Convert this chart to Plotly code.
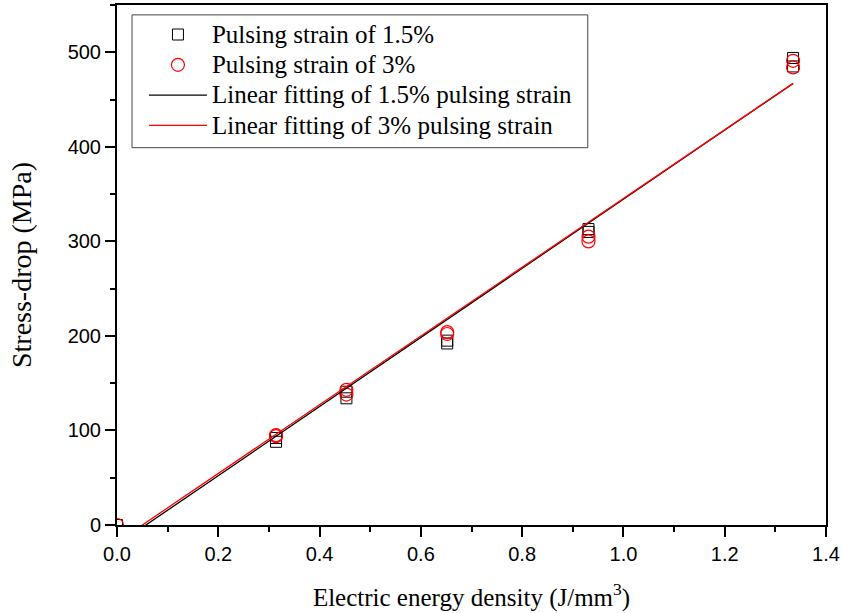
import plotly.graph_objects as go
import numpy as np

# Data
x_15 = [0.0, 0.314, 0.314, 0.453, 0.453, 0.652, 0.652, 0.931, 0.931, 1.335, 1.335]
y_15 = [0, 92, 88, 141, 134, 195, 192, 313, 310, 494, 485]
x_3 = [0.0, 0.314, 0.314, 0.453, 0.453, 0.652, 0.652, 0.931, 0.931, 1.335, 1.335]
y_3 = [0, 95, 94, 143, 138, 204, 202, 305, 300, 491, 484]

# Linear fit parameters
fit_x_range = [0.0, 1.335]
slope_15, intercept_15 = 365.5, -20.9
slope_3, intercept_3 = 363.5, -18.2

names = [
    "Pulsing strain of 1.5%",
    "Pulsing strain of 3%",
    "Linear fitting of 1.5% pulsing strain",
    "Linear fitting of 3% pulsing strain",
]

def big(s):
    return '<span style="font-size:25px">' + s + '</span>'

fx = np.array(fit_x_range)

fig = go.Figure()
fig.add_trace(go.Scatter(
    x=x_15, y=y_15, mode="markers", name=big(names[0]),
    marker=dict(symbol="square-open", size=11, color="black", line=dict(width=1)),
))
fig.add_trace(go.Scatter(
    x=x_3, y=y_3, mode="markers", name=big(names[1]),
    marker=dict(symbol="circle-open", size=13, color="red", line=dict(width=1.2)),
))
fig.add_trace(go.Scatter(
    x=fx, y=slope_15 * fx + intercept_15, mode="lines", name=big(names[2]),
    line=dict(color="black", width=1.3),
))
fig.add_trace(go.Scatter(
    x=fx, y=slope_3 * fx + intercept_3, mode="lines", name=big(names[3]),
    line=dict(color="red", width=1.3),
))

axis_common = dict(
    showline=True, linecolor="black", linewidth=2, mirror=True,
    ticks="outside", ticklen=10, tickwidth=2, tickcolor="black",
    showgrid=False, zeroline=False,
    tickfont=dict(family="Liberation Sans, Arial", size=20, color="black"),
)

fig.update_layout(
    width=842, height=613,
    margin=dict(l=117, r=16, t=5, b=88, autoexpand=False),
    paper_bgcolor="white", plot_bgcolor="white",
    font=dict(family="Liberation Serif, Times New Roman", color="black"),
    xaxis=dict(
        range=[0, 1.4], dtick=0.2, tick0=0, tickformat=".1f",
        minor=dict(dtick=0.1, ticks="outside", ticklen=5, tickwidth=2, tickcolor="black"),
        title=dict(text="Electric energy density (J/mm<sup>3</sup>)",
                   font=dict(family="Liberation Serif, Times New Roman", size=25), standoff=24),
        automargin=False,
        **axis_common,
    ),
    yaxis=dict(
        range=[0, 550], dtick=100, tick0=0,
        minor=dict(dtick=50, ticks="outside", ticklen=5, tickwidth=2, tickcolor="black"),
        title=dict(text="Stress-drop (MPa)",
                   font=dict(family="Liberation Serif, Times New Roman", size=28), standoff=28),
        automargin=False,
        **axis_common,
    ),
    legend=dict(
        x=0.038, y=0.982, xanchor="left", yanchor="top",
        borderwidth=0, bgcolor="rgba(0,0,0,0)",
        font=dict(family="Liberation Serif, Times New Roman", size=21, color="black"),
        itemwidth=58, tracegroupgap=0,
    ),
    shapes=[dict(
        type="rect", xref="paper", yref="paper",
        x0=0.0212, x1=0.664, y0=0.7256, y1=0.981,
        line=dict(color="#444", width=1), fillcolor="white", layer="above",
    )],
    showlegend=True,
)

fig.write_html(
    "out.html",
    config={"displayModeBar": False},
    post_script="document.body.style.margin='0';document.body.style.padding='0';",
)
